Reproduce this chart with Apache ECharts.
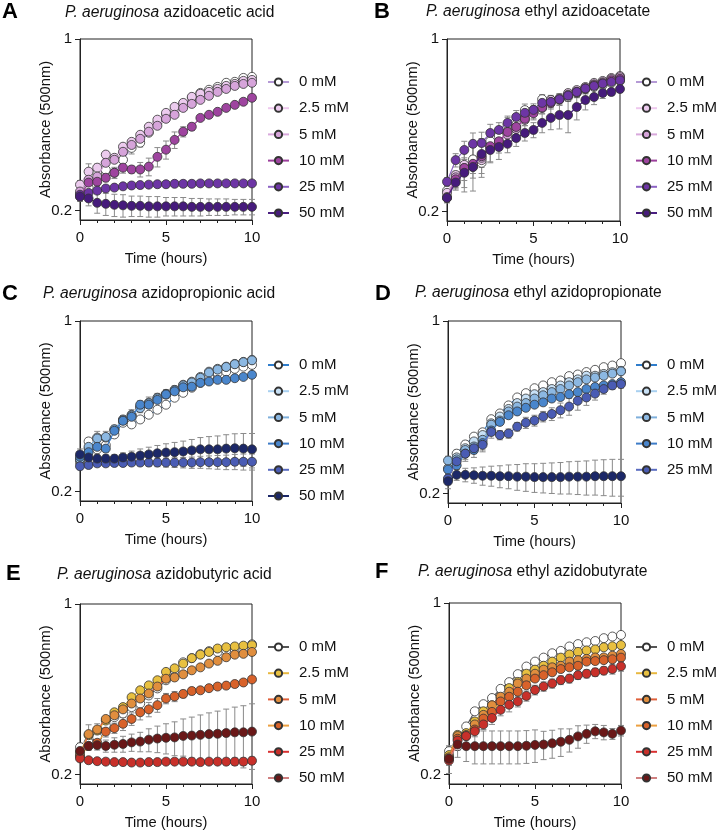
<!DOCTYPE html>
<html>
<head>
<meta charset="utf-8">
<script src="https://cdn.jsdelivr.net/npm/echarts@6/dist/echarts.min.js"></script>
<style>
html,body{margin:0;padding:0;background:#fff;}
#chart{width:716px;height:831px;}
</style>
</head>
<body>
<div id="chart"></div>
<script>
// ---------------- DATA ----------------
const hours = [0,0.5,1,1.5,2,2.5,3,3.5,4,4.5,5,5.5,6,6.5,7,7.5,8,8.5,9,9.5,10];
const concLabels = ['0 mM','2.5 mM','5 mM','10 mM','25 mM','50 mM'];
const yTickValues = [0.2, 1];

// Panel A: azidoacetic acid
const A_0   = [0.234,0.248,0.285,0.293,0.285,0.322,0.360,0.378,0.415,0.456,0.491,0.514,0.544,0.576,0.603,0.621,0.638,0.663,0.669,0.694,0.701];
const A_2_5 = [0.255,0.288,0.299,0.338,0.328,0.364,0.381,0.407,0.439,0.469,0.500,0.529,0.549,0.581,0.598,0.609,0.626,0.644,0.656,0.675,0.681];
const A_5   = [0.239,0.267,0.275,0.313,0.322,0.347,0.370,0.392,0.419,0.443,0.473,0.491,0.524,0.544,0.565,0.587,0.609,0.626,0.644,0.656,0.663];
const A_10  = [0.228,0.260,0.262,0.272,0.285,0.299,0.294,0.294,0.302,0.331,0.354,0.388,0.419,0.439,0.477,0.491,0.505,0.524,0.539,0.555,0.576];
const A_25  = [0.232,0.236,0.241,0.246,0.248,0.251,0.253,0.254,0.255,0.256,0.256,0.257,0.257,0.257,0.258,0.258,0.258,0.258,0.258,0.258,0.258];
const A_50  = [0.228,0.224,0.215,0.213,0.211,0.210,0.209,0.209,0.208,0.208,0.208,0.208,0.208,0.207,0.207,0.207,0.207,0.207,0.207,0.207,0.207];
const errA_0   = [0.01,0.01,0.01,0.01,0.015,0.03,0.02,0.015,0.01,0.01,0.01,0.01,0.01,0.01,0.01,0.01,0.01,0.01,0.01,0.01,0.01];
const errA_2_5 = [0.01,0.022,0.01,0.01,0.01,0.01,0.01,0.01,0.01,0.01,0.01,0.01,0.01,0.01,0.01,0.01,0.01,0.01,0.01,0.01,0.01];
const errA_5   = [0,0,0,0,0,0,0,0,0,0,0,0,0,0,0,0,0,0,0,0,0];
const errA_10  = [0.01,0.01,0.01,0.01,0.01,0.015,0.01,0.02,0.025,0.03,0.03,0.03,0.02,0.015,0.01,0.01,0.01,0.01,0.01,0.01,0.01];
const errA_25  = [0.005,0.005,0.005,0.005,0.005,0.005,0.005,0.005,0.005,0.005,0.005,0.005,0.005,0.005,0.005,0.005,0.005,0.005,0.005,0.005,0.005];
const errA_50  = [0.01,0.015,0.02,0.022,0.022,0.022,0.02,0.02,0.02,0.02,0.018,0.018,0.018,0.017,0.017,0.016,0.016,0.016,0.015,0.015,0.015];

// Panel B: ethyl azidoacetate
const B_0   = [0.243,0.264,0.290,0.325,0.315,0.385,0.405,0.450,0.450,0.515,0.505,0.570,0.566,0.571,0.582,0.604,0.627,0.639,0.651,0.664,0.676];
const B_2_5 = [0.238,0.281,0.309,0.303,0.323,0.365,0.383,0.420,0.440,0.483,0.516,0.530,0.566,0.575,0.604,0.621,0.639,0.664,0.676,0.695,0.708];
const B_5   = [0.229,0.275,0.300,0.310,0.330,0.360,0.378,0.410,0.432,0.470,0.505,0.525,0.555,0.570,0.595,0.612,0.632,0.655,0.668,0.688,0.700];
const B_10  = [0.227,0.270,0.300,0.312,0.335,0.368,0.385,0.420,0.440,0.475,0.500,0.528,0.550,0.568,0.590,0.608,0.630,0.650,0.662,0.680,0.690];
const B_25  = [0.264,0.323,0.355,0.376,0.379,0.416,0.428,0.457,0.483,0.502,0.516,0.551,0.556,0.570,0.590,0.610,0.630,0.645,0.660,0.670,0.680];
const B_50  = [0.227,0.262,0.287,0.303,0.342,0.355,0.365,0.376,0.397,0.416,0.428,0.457,0.479,0.492,0.492,0.530,0.566,0.582,0.604,0.610,0.627];
const errB_0   = [0.01,0.02,0.04,0.04,0.03,0.03,0.03,0.03,0.03,0.03,0.03,0.025,0.025,0.025,0.02,0.02,0.02,0.02,0.02,0.015,0.015];
const errB_2_5 = [0.01,0.01,0.01,0.01,0.01,0.01,0.01,0.01,0.01,0.01,0.01,0.01,0.01,0.01,0.01,0.01,0.01,0.01,0.01,0.01,0.01];
const errB_5   = [0,0,0,0,0,0,0,0,0,0,0,0,0,0,0,0,0,0,0,0,0];
const errB_10  = [0.01,0.02,0.06,0.07,0.06,0.05,0.04,0.04,0.03,0.03,0.03,0.03,0.03,0.03,0.03,0.03,0.03,0.025,0.02,0.02,0.02];
const errB_25  = [0.01,0.02,0.03,0.04,0.04,0.035,0.03,0.03,0.03,0.03,0.03,0.03,0.03,0.03,0.03,0.03,0.03,0.025,0.02,0.02,0.02];
const errB_50  = [0.01,0.015,0.02,0.03,0.04,0.04,0.04,0.03,0.03,0.03,0.03,0.04,0.05,0.06,0.075,0.06,0.05,0.04,0.03,0.02,0.02];

// Panel C: azidopropionic acid
const C_0   = [0.263,0.321,0.298,0.310,0.343,0.383,0.377,0.395,0.413,0.433,0.454,0.485,0.508,0.533,0.558,0.590,0.613,0.620,0.637,0.650,0.661];
const C_2_5 = [0.270,0.300,0.333,0.333,0.359,0.395,0.413,0.446,0.463,0.485,0.503,0.522,0.548,0.564,0.590,0.620,0.637,0.650,0.667,0.680,0.693];
const C_5   = [0.272,0.305,0.330,0.335,0.360,0.392,0.410,0.440,0.460,0.482,0.500,0.520,0.545,0.560,0.585,0.615,0.632,0.648,0.665,0.678,0.690];
const C_10  = [0.278,0.290,0.305,0.300,0.355,0.390,0.405,0.454,0.454,0.475,0.500,0.515,0.535,0.538,0.558,0.565,0.574,0.574,0.583,0.590,0.602];
const C_25  = [0.254,0.257,0.261,0.261,0.262,0.262,0.263,0.263,0.263,0.263,0.263,0.263,0.263,0.263,0.264,0.264,0.264,0.264,0.265,0.265,0.265];
const C_50  = [0.284,0.276,0.273,0.273,0.273,0.276,0.278,0.281,0.284,0.287,0.289,0.290,0.292,0.295,0.298,0.298,0.298,0.300,0.301,0.300,0.298];
const errC_0   = [0.01,0.01,0.02,0.01,0.01,0.01,0.01,0.01,0.01,0.01,0.01,0.01,0.01,0.01,0.01,0.01,0.01,0.01,0.01,0.01,0.01];
const errC_2_5 = [0.01,0.01,0.02,0.02,0.015,0.015,0.02,0.025,0.025,0.02,0.02,0.02,0.015,0.015,0.015,0.015,0.015,0.015,0.015,0.015,0.015];
const errC_5   = [0,0,0,0,0,0,0,0,0,0,0,0,0,0,0,0,0,0,0,0,0];
const errC_10  = [0.01,0.01,0.01,0.01,0.01,0.01,0.01,0.01,0.01,0.01,0.01,0.01,0.01,0.01,0.01,0.01,0.01,0.01,0.01,0.01,0.01];
const errC_25  = [0.005,0.005,0.005,0.005,0.005,0.006,0.007,0.008,0.009,0.01,0.011,0.012,0.013,0.014,0.015,0.016,0.017,0.018,0.019,0.02,0.02];
const errC_50  = [0.015,0.01,0.01,0.01,0.01,0.012,0.015,0.018,0.02,0.022,0.025,0.028,0.03,0.032,0.035,0.038,0.04,0.042,0.044,0.046,0.048];

// Panel D: ethyl azidopropionate
const D_0   = [0.228,0.290,0.316,0.340,0.354,0.400,0.422,0.455,0.490,0.510,0.534,0.548,0.565,0.574,0.598,0.607,0.621,0.634,0.650,0.660,0.675];
const D_2_5 = [0.253,0.280,0.305,0.325,0.345,0.385,0.410,0.440,0.465,0.485,0.505,0.515,0.530,0.548,0.565,0.580,0.600,0.600,0.610,0.620,0.628];
const D_5   = [0.272,0.275,0.300,0.310,0.330,0.380,0.395,0.430,0.450,0.465,0.485,0.500,0.515,0.530,0.548,0.565,0.580,0.590,0.600,0.612,0.625];
const D_10  = [0.250,0.260,0.290,0.300,0.320,0.360,0.390,0.415,0.430,0.445,0.458,0.468,0.485,0.492,0.505,0.515,0.530,0.540,0.548,0.555,0.565];
const D_25  = [0.230,0.270,0.290,0.305,0.315,0.355,0.345,0.350,0.373,0.387,0.395,0.410,0.420,0.435,0.450,0.475,0.490,0.508,0.530,0.548,0.555];
const D_50  = [0.224,0.238,0.238,0.237,0.236,0.236,0.235,0.235,0.234,0.234,0.233,0.233,0.233,0.233,0.234,0.234,0.234,0.235,0.235,0.235,0.235];
const errD_0   = [0.01,0.01,0.01,0.01,0.01,0.01,0.01,0.01,0.01,0.01,0.01,0.01,0.01,0.01,0.01,0.01,0.01,0.01,0.01,0.01,0.01];
const errD_2_5 = [0.03,0.01,0.01,0.01,0.01,0.01,0.01,0.01,0.01,0.01,0.01,0.01,0.01,0.01,0.01,0.01,0.01,0.01,0.01,0.01,0.01];
const errD_5   = [0,0,0,0,0,0,0,0,0,0,0,0,0,0,0,0,0,0,0,0,0];
const errD_10  = [0.01,0.01,0.02,0.02,0.02,0.015,0.01,0.01,0.01,0.01,0.01,0.01,0.01,0.01,0.01,0.01,0.01,0.01,0.01,0.01,0.01];
const errD_25  = [0.01,0.01,0.015,0.015,0.02,0.02,0.015,0.015,0.015,0.02,0.02,0.02,0.025,0.03,0.035,0.04,0.035,0.03,0.025,0.02,0.02];
const errD_50  = [0.015,0.012,0.015,0.017,0.02,0.022,0.024,0.026,0.028,0.03,0.031,0.032,0.033,0.034,0.035,0.036,0.037,0.038,0.039,0.04,0.04];

// Panel E: azidobutyric acid
const E_0   = [0.259,0.271,0.285,0.318,0.344,0.356,0.378,0.391,0.422,0.451,0.487,0.535,0.577,0.600,0.623,0.641,0.636,0.647,0.650,0.647,0.684];
const E_2_5 = [0.247,0.290,0.303,0.333,0.360,0.378,0.415,0.443,0.464,0.487,0.527,0.545,0.570,0.600,0.620,0.636,0.657,0.665,0.670,0.675,0.678];
const E_5   = [0.240,0.293,0.306,0.338,0.350,0.370,0.391,0.410,0.430,0.459,0.494,0.500,0.515,0.535,0.550,0.570,0.585,0.605,0.620,0.625,0.636];
const E_10  = [0.237,0.262,0.270,0.300,0.310,0.323,0.338,0.360,0.370,0.385,0.410,0.418,0.428,0.440,0.443,0.452,0.459,0.463,0.470,0.477,0.491];
const E_25  = [0.233,0.229,0.227,0.226,0.225,0.225,0.224,0.224,0.225,0.225,0.226,0.226,0.226,0.226,0.225,0.226,0.226,0.226,0.226,0.226,0.228];
const E_50  = [0.250,0.262,0.264,0.262,0.265,0.267,0.271,0.273,0.278,0.281,0.283,0.284,0.288,0.289,0.291,0.293,0.294,0.296,0.298,0.298,0.300];
const errE_0   = [0.01,0.01,0.01,0.01,0.01,0.01,0.01,0.01,0.01,0.01,0.01,0.01,0.01,0.01,0.01,0.01,0.01,0.01,0.01,0.01,0.01];
const errE_2_5 = [0.01,0.03,0.02,0.01,0.01,0.01,0.01,0.01,0.01,0.01,0.01,0.01,0.01,0.01,0.01,0.01,0.01,0.01,0.01,0.01,0.01];
const errE_5   = [0,0,0,0,0,0,0,0,0,0,0,0,0,0,0,0,0,0,0,0,0];
const errE_10  = [0.01,0.01,0.01,0.015,0.015,0.02,0.02,0.025,0.025,0.025,0.02,0.02,0.015,0.015,0.01,0.01,0.01,0.01,0.01,0.01,0.01];
const errE_25  = [0.005,0.005,0.005,0.005,0.005,0.005,0.005,0.005,0.005,0.005,0.005,0.005,0.005,0.005,0.005,0.005,0.006,0.007,0.008,0.008,0.008];
const errE_50  = [0.01,0.01,0.012,0.015,0.018,0.02,0.022,0.025,0.03,0.035,0.04,0.045,0.05,0.055,0.06,0.065,0.07,0.075,0.08,0.085,0.09];

// Panel F: ethyl azidobutyrate
const F_0   = [0.249,0.261,0.314,0.362,0.387,0.410,0.447,0.476,0.513,0.551,0.577,0.599,0.624,0.638,0.665,0.680,0.692,0.700,0.719,0.730,0.741];
const F_2_5 = [0.240,0.290,0.295,0.329,0.362,0.383,0.410,0.450,0.477,0.515,0.535,0.555,0.577,0.599,0.617,0.632,0.641,0.647,0.660,0.666,0.674];
const F_5   = [0.235,0.287,0.290,0.320,0.350,0.383,0.415,0.435,0.470,0.492,0.515,0.535,0.547,0.555,0.577,0.585,0.592,0.600,0.600,0.610,0.620];
const F_10  = [0.232,0.280,0.287,0.305,0.338,0.360,0.397,0.415,0.435,0.462,0.492,0.508,0.522,0.538,0.547,0.555,0.577,0.580,0.585,0.590,0.599];
const F_25  = [0.228,0.275,0.287,0.300,0.320,0.340,0.367,0.385,0.397,0.418,0.442,0.457,0.470,0.485,0.492,0.508,0.515,0.522,0.530,0.538,0.552];
const F_50  = [0.232,0.265,0.261,0.261,0.261,0.261,0.261,0.261,0.261,0.262,0.264,0.265,0.268,0.272,0.277,0.286,0.293,0.300,0.297,0.293,0.302];
const errF_0   = [0.01,0.01,0.01,0.01,0.01,0.01,0.01,0.01,0.01,0.01,0.01,0.01,0.01,0.01,0.01,0.01,0.01,0.01,0.01,0.01,0.01];
const errF_2_5 = [0.01,0.01,0.01,0.01,0.01,0.01,0.01,0.01,0.01,0.01,0.01,0.01,0.01,0.01,0.01,0.01,0.01,0.01,0.01,0.01,0.01];
const errF_5   = [0,0,0,0,0,0,0,0,0,0,0,0,0,0,0,0,0,0,0,0,0];
const errF_10  = [0.01,0.01,0.01,0.01,0.01,0.01,0.01,0.01,0.01,0.01,0.01,0.01,0.01,0.01,0.01,0.01,0.01,0.01,0.01,0.01,0.01];
const errF_25  = [0.01,0.01,0.01,0.015,0.015,0.02,0.02,0.025,0.02,0.02,0.02,0.02,0.02,0.02,0.02,0.02,0.02,0.02,0.02,0.025,0.025];
const errF_50  = [0.03,0.03,0.035,0.04,0.04,0.04,0.04,0.04,0.04,0.04,0.04,0.035,0.035,0.035,0.03,0.03,0.025,0.02,0.02,0.015,0.015];

// ---------------- STYLE / LAYOUT ----------------
const FONT = '"Liberation Sans", Arial, Helvetica, sans-serif';
const palettes = {
  purple: {fill:['#ffffff','#eccbee','#d6a4da','#9e449f','#6d35a5','#461b7c'],
           line:['#b59ad6','#eec8ee','#d8a8dc','#9c3f9c','#8c62c4','#4a1f80']},
  blue:   {fill:['#ffffff','#c8e1f6','#8cb8e2','#4a86cc','#4a5cb4','#1c2868'],
           line:['#2f7dcc','#a8d0f0','#7fb0dc','#3d7cc8','#5a6cc0','#1c2868']},
  orange: {fill:['#ffffff','#e8c040','#e08e3e','#d8622a','#c8302a','#6a1818'],
           line:['#555555','#e8b840','#e0603a','#eca040','#d83030','#d08080']}
};

const panels = [
  {key:'A', title:'azidoacetic acid', pal:'purple', grid:{left:80,top:39,width:172,height:181},
   letterPos:[2,1], titlePos:[65,5], legendPos:[267,74.5], legendN:6,
   vals:[A_0,A_2_5,A_5,A_10,A_25,A_50], errs:[errA_0,errA_2_5,errA_5,errA_10,errA_25,errA_50]},
  {key:'B', title:'ethyl azidoacetate', pal:'purple', grid:{left:447,top:39,width:173,height:182},
   letterPos:[374,1], titlePos:[426,4], legendPos:[635,74.5], legendN:6,
   vals:[B_0,B_2_5,B_5,B_10,B_25,B_50], errs:[errB_0,errB_2_5,errB_5,errB_10,errB_25,errB_50]},
  {key:'C', title:'azidopropionic acid', pal:'blue', grid:{left:80,top:321,width:172,height:180},
   letterPos:[2,283], titlePos:[43,286], legendPos:[267,357.5], legendN:6,
   vals:[C_0,C_2_5,C_5,C_10,C_25,C_50], errs:[errC_0,errC_2_5,errC_5,errC_10,errC_25,errC_50]},
  {key:'D', title:'ethyl azidopropionate', pal:'blue', grid:{left:448,top:321,width:173,height:182},
   letterPos:[375,283], titlePos:[415,285], legendPos:[635,357.5], legendN:5,
   vals:[D_0,D_2_5,D_5,D_10,D_25,D_50], errs:[errD_0,errD_2_5,errD_5,errD_10,errD_25,errD_50]},
  {key:'E', title:'azidobutyric acid', pal:'orange', grid:{left:80,top:604,width:172,height:181},
   letterPos:[6,563], titlePos:[57,567], legendPos:[267,639.5], legendN:6,
   vals:[E_0,E_2_5,E_5,E_10,E_25,E_50], errs:[errE_0,errE_2_5,errE_5,errE_10,errE_25,errE_50]},
  {key:'F', title:'ethyl azidobutyrate', pal:'orange', grid:{left:449,top:603,width:172,height:182},
   letterPos:[375,561], titlePos:[418,564], legendPos:[635,639.5], legendN:6,
   vals:[F_0,F_2_5,F_5,F_10,F_25,F_50], errs:[errF_0,errF_2_5,errF_5,errF_10,errF_25,errF_50]}
];

const option = {animation:false, backgroundColor:'#ffffff',
  title:[], grid:[], xAxis:[], yAxis:[], legend:[], series:[]};

function errorBarRender(params, api){
  const x = api.value(0);
  const p1 = api.coord([x, api.value(1)]);
  const p2 = api.coord([x, api.value(2)]);
  const w = 3;
  const st = {stroke:'#8a8a8a', lineWidth:1};
  return {type:'group', children:[
    {type:'line', shape:{x1:p1[0],y1:p1[1],x2:p2[0],y2:p2[1]}, style:st},
    {type:'line', shape:{x1:p1[0]-w,y1:p1[1],x2:p1[0]+w,y2:p1[1]}, style:st},
    {type:'line', shape:{x1:p2[0]-w,y1:p2[1],x2:p2[0]+w,y2:p2[1]}, style:st}
  ]};
}

panels.forEach((p, i) => {
  const pal = palettes[p.pal];
  option.title.push({text:p.key, left:p.letterPos[0], top:p.letterPos[1], padding:0,
    textStyle:{fontFamily:FONT, fontSize:22, fontWeight:'bold', color:'#000'}});
  option.title.push({text:'{i|P. aeruginosa} ' + p.title, left:p.titlePos[0], top:p.titlePos[1], padding:0,
    textStyle:{fontFamily:FONT, fontSize:15.6, fontWeight:'normal', color:'#111',
      rich:{i:{fontFamily:FONT, fontSize:15.6, fontStyle:'italic', color:'#111'}}}});
  option.grid.push(Object.assign({show:true, borderColor:'#222', borderWidth:1, backgroundColor:'transparent'}, p.grid));
  option.xAxis.push({gridIndex:i, type:'value', min:0, max:10, interval:5,
    axisLine:{show:true, onZero:false, lineStyle:{color:'#222', width:1}},
    axisTick:{show:true, length:5, lineStyle:{color:'#222', width:1}},
    minorTick:{show:true, splitNumber:5, length:3, lineStyle:{color:'#222', width:1}},
    splitLine:{show:false}, minorSplitLine:{show:false},
    axisLabel:{fontFamily:FONT, fontSize:15, color:'#111', margin:10},
    name:'Time (hours)', nameLocation:'middle', nameGap:31,
    nameTextStyle:{fontFamily:FONT, fontSize:14.7, color:'#111'}});
  option.yAxis.push({gridIndex:i, type:'log', logBase:5, min:0.183, max:1,
    axisLine:{show:true, onZero:false, lineStyle:{color:'#222', width:1}},
    axisTick:{show:true, length:5, customValues:yTickValues, lineStyle:{color:'#222', width:1}},
    minorTick:{show:false}, splitLine:{show:false},
    axisLabel:{fontFamily:FONT, fontSize:15, color:'#111', margin:8, customValues:yTickValues},
    name:'Absorbance (500nm)', nameLocation:'middle', nameGap:27, nameMoveOverlap:false,
    nameTextStyle:{fontFamily:FONT, fontSize:14.7, color:'#111'}});
  const legendNames = [];
  p.vals.forEach((vals, k) => {
    const sname = p.key + '|' + concLabels[k];
    if (k < p.legendN) legendNames.push(sname);
    const errs = p.errs[k];
    const ebData = [];
    hours.forEach((h, j) => { if (errs[j] > 0) ebData.push([h, vals[j]-errs[j], vals[j]+errs[j]]); });
    option.series.push({type:'custom', xAxisIndex:i, yAxisIndex:i, data:ebData,
      renderItem:errorBarRender, z:2, silent:true, encode:{x:0, y:[1,2]}});
    option.series.push({type:'line', name:sname, xAxisIndex:i, yAxisIndex:i,
      data:hours.map((h, j) => [h, vals[j]]),
      symbol:'circle', symbolSize:9, showAllSymbol:true,
      itemStyle:{color:pal.fill[k], borderColor:'#333', borderWidth:0.8},
      lineStyle:{color:pal.line[k], width:1.2}, z:3+k});
  });
  option.legend.push({data:legendNames, orient:'vertical', left:p.legendPos[0], top:p.legendPos[1],
    padding:0, itemWidth:21, itemHeight:9, itemGap:11.2, selectedMode:false,
    formatter: n => n.split('|')[1],
    textStyle:{fontFamily:FONT, fontSize:15, color:'#111', lineHeight:15, padding:[0,0,0,5]}});
});

const chart = echarts.init(document.getElementById('chart'), null, {renderer:'canvas'});
chart.setOption(option);
</script>
</body>
</html>
